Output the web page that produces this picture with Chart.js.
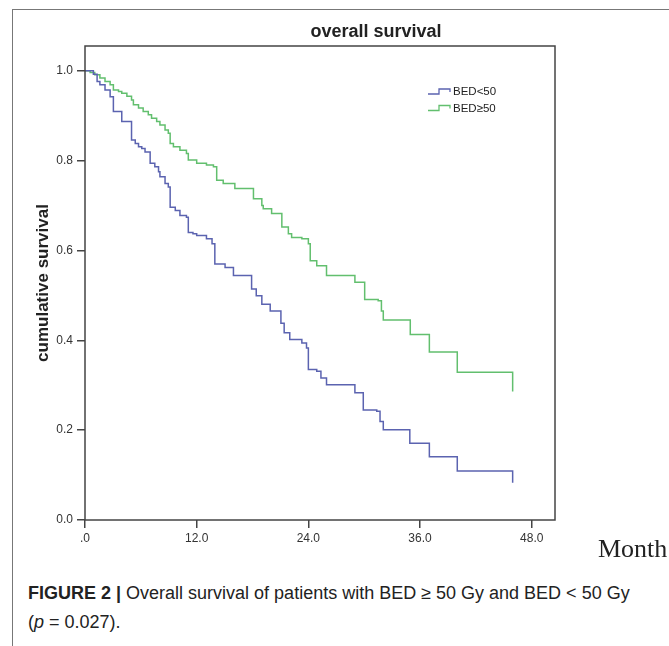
<!DOCTYPE html>
<html>
<head>
<meta charset="utf-8">
<script src="https://cdn.jsdelivr.net/npm/chart.js@4/dist/chart.umd.min.js"></script>
<style>
 body{margin:0;background:#fff;width:669px;height:646px;overflow:hidden;position:relative;font-family:"Liberation Sans",Arial,sans-serif}
 #frame{position:absolute;left:12px;top:9px;right:-2px;bottom:-2px;border-left:1px solid #777;border-top:1px solid #777}
 #wrap{position:absolute;left:0;top:0;width:669px;height:560px}
 #title{position:absolute;top:21px;left:376px;transform:translateX(-50%);font-weight:bold;font-size:18px;color:#222;white-space:nowrap}
 #month{position:absolute;left:598px;top:534px;font-family:"Liberation Serif","Times New Roman",serif;font-size:26px;color:#222}
 #caption{position:absolute;left:28px;top:579px;font-size:18px;line-height:29px;color:#222}
</style>
</head>
<body>
<div id="frame"></div>
<div id="wrap"><canvas id="chart" width="669" height="560"></canvas></div>
<div id="title">overall survival</div>
<div id="month">Month</div>
<div id="caption"><b>FIGURE 2 |</b> Overall survival of patients with BED ≥ 50 Gy and BED &lt; 50 Gy<br>(<i>p</i> = 0.027).</div>
<script>
// data (month of each drop, survival after it)
const lowMonths=[0,0.9,1.3,1.6,2.15,2.7,3.05,3.95,5.0,5.4,5.75,6.1,6.45,7.0,7.5,7.9,8.05,8.6,8.95,9.15,9.7,10.2,10.9,11.1,11.6,12.0,13.05,13.65,13.95,15.05,15.95,17.9,18.4,19.0,19.9,21.05,21.4,22.0,23.3,23.8,24.0,24.9,25.35,25.95,29.0,29.9,31.35,31.7,32.05,34.9,37.0,40.0,45.95];
const lowSurv=[1,0.992,0.976,0.969,0.957,0.942,0.909,0.887,0.846,0.838,0.831,0.827,0.819,0.794,0.786,0.775,0.764,0.749,0.741,0.696,0.689,0.678,0.674,0.640,0.637,0.633,0.626,0.615,0.570,0.562,0.544,0.514,0.499,0.480,0.465,0.438,0.417,0.402,0.394,0.383,0.335,0.331,0.316,0.301,0.283,0.245,0.242,0.219,0.201,0.171,0.141,0.109,0.083];
const highMonths=[0,0.55,1.05,1.6,2.15,2.7,3.05,3.6,3.95,4.5,5.0,5.2,5.75,6.25,6.8,7.15,7.7,8.05,8.6,8.95,9.15,9.5,10.2,10.9,11.1,12.0,13.05,13.8,14.15,14.85,16.1,18.1,19.0,19.15,20.05,21.15,21.85,22.2,23.3,24.0,24.2,24.9,25.95,29.0,30.05,31.5,31.85,32.05,34.95,37.0,40.0,45.95];
const highSurv=[1,0.996,0.991,0.984,0.976,0.969,0.957,0.954,0.950,0.943,0.935,0.924,0.917,0.909,0.902,0.894,0.887,0.879,0.868,0.861,0.838,0.831,0.823,0.816,0.801,0.794,0.790,0.786,0.756,0.749,0.738,0.715,0.700,0.693,0.682,0.652,0.637,0.629,0.626,0.615,0.577,0.566,0.544,0.529,0.491,0.488,0.465,0.445,0.413,0.374,0.329,0.286];
const seriesLabels=["BED<50","BED≥50"];
const xTicks=[0,12,24,36,48];
const yTicks=[0,0.2,0.4,0.6,0.8,1.0];

function toPoints(ms,vs){
 return ms.map((m,i)=>({x:m,y:vs[i]}));
}

Chart.defaults.font.family="'Liberation Sans', Arial, sans-serif";

// box round the plot area
const plotFrame={
 id:"plotFrame",
 afterDraw(chart){
  let a=chart.chartArea,ctx=chart.ctx;
  ctx.save();
  ctx.strokeStyle="#444";
  ctx.lineWidth=1.5;
  ctx.strokeRect(a.left,a.top,a.right-a.left,a.bottom-a.top);
  ctx.restore();
 }
};

// SPSS-like legend with little step icons
const stepLegend={
 id:"stepLegend",
 afterDraw(chart){
  let a=chart.chartArea,ctx=chart.ctx;
  ctx.save();
  ctx.font="11.5px 'Liberation Sans', Arial";
  ctx.textBaseline="middle";
  chart.data.datasets.forEach((ds,i)=>{
   let x=a.left+343,y=a.top+46+i*16.5;
   ctx.strokeStyle=ds.borderColor;
   ctx.lineWidth=1.3;
   ctx.beginPath();
   ctx.moveTo(x,y+2);ctx.lineTo(x+11,y+2);ctx.lineTo(x+11,y-3);ctx.lineTo(x+22,y-3);ctx.lineTo(x+22,y);
   ctx.stroke();
   ctx.fillStyle="#222";
   ctx.fillText(ds.label,x+25,y);
  });
  ctx.restore();
 }
};

const axisGrid={drawOnChartArea:false,drawTicks:true,tickLength:8,color:"#444",lineWidth:1.5};

new Chart(document.getElementById("chart"),{
 type:"line",
 data:{datasets:[
  {label:seriesLabels[0],data:toPoints(lowMonths,lowSurv),borderColor:"#5b63b0",borderWidth:1.5,stepped:"before",pointRadius:0,fill:false},
  {label:seriesLabels[1],data:toPoints(highMonths,highSurv),borderColor:"#62bf6e",borderWidth:1.5,stepped:"before",pointRadius:0,fill:false}
 ]},
 options:{
  responsive:false,
  animation:false,
  devicePixelRatio:1,
  layout:{padding:{top:46,right:114,left:0,bottom:0}},
  plugins:{legend:{display:false},tooltip:{enabled:false}},
  scales:{
   x:{
    type:"linear",min:0,max:50.5,
    afterBuildTicks:s=>{s.ticks=xTicks.map(v=>({value:v}));},
    afterFit:s=>{s.height=40;},
    grid:axisGrid,
    border:{display:false},
    ticks:{padding:3,color:"#333",font:{size:12},maxRotation:0,autoSkip:false,callback:v=>v===0?".0":v.toFixed(1)}
   },
   y:{
    type:"linear",min:0,max:1.055,
    afterBuildTicks:s=>{s.ticks=yTicks.map(v=>({value:v}));},
    afterFit:s=>{s.width=85;},
    grid:axisGrid,
    border:{display:false},
    ticks:{padding:4,color:"#333",font:{size:12},callback:v=>v.toFixed(1)},
    title:{display:true,text:"cumulative survival",color:"#222",font:{size:17,weight:"bold"},padding:{top:33,bottom:0}}
   }
  }
 },
 plugins:[plotFrame,stepLegend]
});
</script>
</body>
</html>
